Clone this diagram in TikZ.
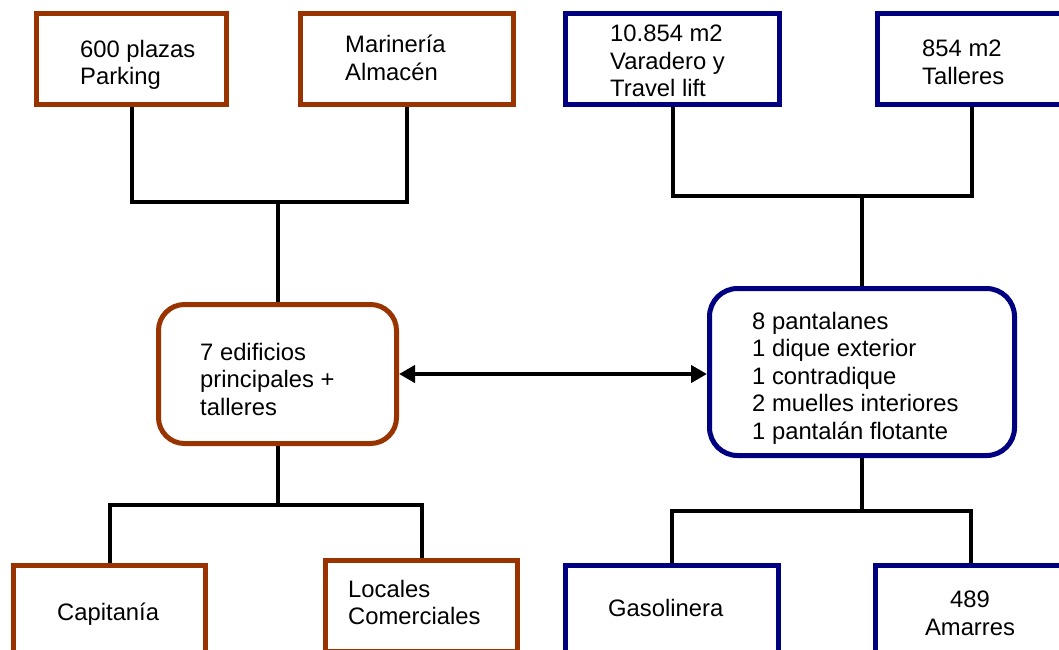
\documentclass[tikz,border=0pt]{standalone}
\usepackage{fontspec}
\setmainfont{Liberation Sans}
\usetikzlibrary{arrows.meta, positioning}
\definecolor{brownline}{HTML}{993300}
\definecolor{navyline}{HTML}{000080}
\begin{document}
\begin{tikzpicture}[x=1pt, y=-1pt]
				\tikzstyle{BrownBox} = [rectangle, draw=brownline, line width=5pt, minimum height=91pt]
				\tikzstyle{BlueBox} = [rectangle, draw=navyline, line width=5pt, minimum height=91pt]
				\tikzstyle{BrownRound} = [rectangle, rounded corners=26pt, draw=brownline, line width=5pt]
				\tikzstyle{BlueRound} = [rectangle, rounded corners=28pt, draw=navyline, line width=5pt]
				\tikzstyle{Txt} = [anchor=north west, inner sep=0pt, align=left, font=\fontsize{23.8}{27.5}\selectfont]
				\tikzstyle{Conn} = [line width=4pt, black]
				\tikzstyle{Arrow} = [line width=4pt, black, <->, >={Triangle[length=16pt,width=17pt]}]
				
				\useasboundingbox (0,0) rectangle (1059,649);
				\clip (0,0) rectangle (1059,649);
				
				\node (park) [BrownBox, minimum width=190pt] at (131.5,59) {};
				\node (mar) [BrownBox, minimum width=213pt] at (407,59) {};
				\node (var) [BlueBox, minimum width=214pt] at (672.5,59) {};
				\node (tall) [BlueBox, minimum width=189pt] at (972,59) {};
				\node (edif) [BrownRound, minimum width=238pt, minimum height=139pt] at (277.5,374) {};
				\node (pant) [BlueRound, minimum width=305pt, minimum height=167pt] at (862,372) {};
				\node (cap) [BrownBox, minimum width=192pt] at (109.5,611) {};
				\node (loc) [BrownBox, minimum width=192pt] at (421.5,606) {};
				\node (gas) [BlueBox, minimum width=213pt] at (672,611) {};
				\node (ama) [BlueBox, minimum width=191pt] at (971,611) {};
				
				\node (parkT) [Txt] at (80,40) {600 plazas\\Parking};
				\node (marT) [Txt] at (345,35) {Marinería\\Almacén};
				\node (varT) [Txt] at (610,25) {10.854 m2\\Varadero y\\Travel lift};
				\node (tallT) [Txt] at (922,40) {854 m2\\Talleres};
				\node (edifT) [Txt] at (200,343) {7 edificios\\principales +\\talleres};
				\node (pantT) [Txt] at (752,312) {8 pantalanes\\1 dique exterior\\1 contradique\\2 muelles interiores\\1 pantalán flotante};
				\node (capT) [Txt] at (57,603) {Capitanía};
				\node (locT) [Txt] at (348,580) {Locales\\Comerciales};
				\node (gasT) [Txt] at (608,599) {Gasolinera};
				\node (amaT) [Txt, anchor=north, align=center] at (970,591) {489\\Amarres};
				
				\coordinate (tl) at (277.5,202);
				\coordinate (tr) at (862,196);
				\coordinate (bl) at (277.5,505);
				\coordinate (br) at (862,511);
				\draw [Conn] (park.south) |- (tl) -| (mar.south);
				\draw [Conn] (tl) -- (edif.north);
				\draw [Conn] (var.south) |- (tr) -| (tall.south);
				\draw [Conn] (tr) -- (pant.north);
				\draw [Conn] (edif.south) -- (bl);
				\draw [Conn] (cap.north) |- (bl) -| (loc.north);
				\draw [Conn] (pant.south) -- (br);
				\draw [Conn] (gas.north) |- (br) -| (ama.north);
				\draw [Arrow] (edif.east) -- (edif.east -| pant.west);
\end{tikzpicture}
\end{document}
